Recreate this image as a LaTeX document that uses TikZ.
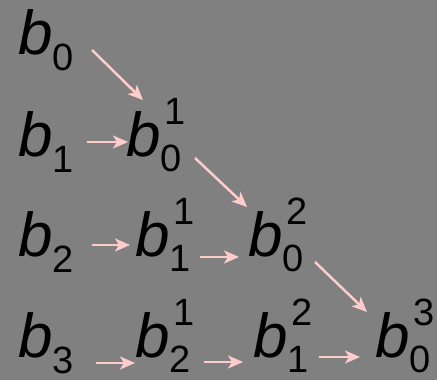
\documentclass[tikz,border=0pt]{standalone}
\usepackage{fontspec}
\setmainfont{Liberation Sans}
\usetikzlibrary{arrows.meta}

\definecolor{bggray}{HTML}{808080}
\definecolor{linkpink}{HTML}{FFCCCC}

\newcommand{\idx}[1]{{\fontsize{38}{38}\selectfont #1}}
\newcommand{\bsub}[1]{\textit{b}\raisebox{-16pt}{\idx{#1}}}
\newcommand{\bsubsup}[2]{\textit{b}\rlap{\hspace{4pt}\raisebox{32pt}{\idx{#2}}}\raisebox{-15pt}{\idx{#1}}}

\begin{document}
\begin{tikzpicture}[
  x=1pt, y=1pt,
  term/.style={inner sep=0pt, anchor=base west, font=\fontsize{62}{62}\selectfont},
  link/.style={->, draw=linkpink, line width=2.5pt},
  >={Stealth[length=15pt, width=13pt, inset=4pt]}
]
  \fill[bggray] (0,0) rectangle (437,380);
  \useasboundingbox (0,0) rectangle (437,380);

  % first column
  \node[term] (b0) at (18,325) {\bsub{0}};
  \node[term] (b1) at (18,223) {\bsub{1}};
  \node[term] (b2) at (18,123) {\bsub{2}};
  \node[term] (b3) at (18,22) {\bsub{3}};
  % second column
  \node[term] (b01) at (126,223) {\bsubsup{0}{1}};
  \node[term] (b11) at (135,123) {\bsubsup{1}{1}};
  \node[term] (b21) at (135,22) {\bsubsup{2}{1}};
  % third column
  \node[term] (b02) at (248,123) {\bsubsup{0}{2}};
  \node[term] (b12) at (253,22) {\bsubsup{1}{2}};
  % last column
  \node[term] (b03) at (375,22) {\bsubsup{0}{3}};

  \draw[link] ([shift={(74,5)}]b0.base west) -- ([shift={(17,57)}]b01.base west);
  \draw[link] ([shift={(69,15)}]b1.base west) -- ([shift={(2,15)}]b01.base west);
  \draw[link] ([shift={(69,-1)}]b01.base west) -- ([shift={(-1,50)}]b02.base west);
  \draw[link] ([shift={(74,12)}]b2.base west) -- ([shift={(-5,12)}]b11.base west);
  \draw[link] ([shift={(65,0)}]b11.base west) -- ([shift={(-9,0)}]b02.base west);
  \draw[link] ([shift={(67,-5)}]b02.base west) -- ([shift={(-8,46)}]b03.base west);
  \draw[link] ([shift={(78,-5)}]b3.base west) -- ([shift={(0,-5)}]b21.base west);
  \draw[link] ([shift={(69,-4)}]b21.base west) -- ([shift={(-10,-4)}]b12.base west);
  \draw[link] ([shift={(66,1)}]b12.base west) -- ([shift={(-15,1)}]b03.base west);
\end{tikzpicture}
\end{document}
